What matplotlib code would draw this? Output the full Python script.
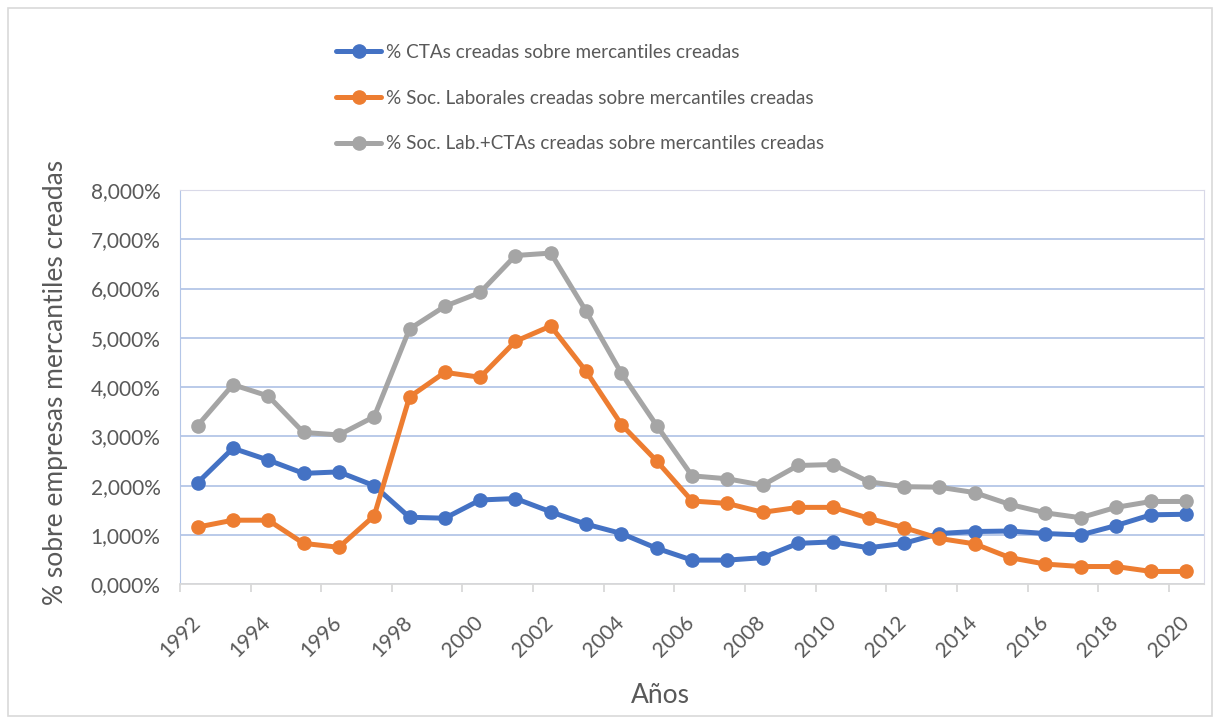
import numpy as np
import matplotlib
matplotlib.use('Agg')
import matplotlib.pyplot as plt
from matplotlib.ticker import FuncFormatter, MultipleLocator
from matplotlib.patches import Rectangle

# --------------------------------------------------------------------------------
# Data
a1iAnios = np.arange(1992, 2021)
a1dCTAs = [2.06, 2.76, 2.52, 2.25, 2.28, 2.00, 1.36, 1.34, 1.71, 1.74,
           1.47, 1.22, 1.03, 0.73, 0.49, 0.49, 0.54, 0.83, 0.86, 0.74,
           0.83, 1.03, 1.07, 1.08, 1.03, 1.00, 1.19, 1.41, 1.42]
a1dSocLab = [1.16, 1.30, 1.30, 0.83, 0.75, 1.39, 3.80, 4.30, 4.20, 4.93,
             5.24, 4.32, 3.24, 2.50, 1.69, 1.64, 1.46, 1.56, 1.56, 1.34,
             1.15, 0.93, 0.82, 0.54, 0.41, 0.36, 0.36, 0.26, 0.26]
a1dSocLabCTAs = [3.22, 4.05, 3.82, 3.08, 3.03, 3.40, 5.18, 5.64, 5.92, 6.67,
                 6.72, 5.54, 4.28, 3.22, 2.20, 2.14, 2.01, 2.41, 2.43, 2.08,
                 1.98, 1.97, 1.86, 1.62, 1.45, 1.35, 1.56, 1.68, 1.68]
a1sLabels = ['% CTAs creadas sobre mercantiles creadas',
             '% Soc. Laborales creadas sobre mercantiles creadas',
             '% Soc. Lab.+CTAs creadas sobre mercantiles creadas']
a1sColors = ['#4472C4', '#ED7D31', '#A5A5A5']
# --------------------------------------------------------------------------------

# --------------------------------------------------------------------------------
# Figure
plt.rcParams['font.family'] = ['Lato', 'DejaVu Sans']
oFig = plt.figure(figsize=(12.2, 7.24), dpi=100)
oAx = oFig.add_axes([0.1475, 0.193, 0.8395, 0.5446])

# Points sit in the middle of each year (date axis)
a1dX = a1iAnios + 0.5
for a1dVal, sLab, sCol in zip([a1dCTAs, a1dSocLab, a1dSocLabCTAs], a1sLabels, a1sColors):
    oAx.plot(a1dX, a1dVal, color=sCol, lw=3.6, marker='o', ms=9.5, label=sLab,
             solid_capstyle='round', zorder=3)
# --------------------------------------------------------------------------------

# --------------------------------------------------------------------------------
# Axes
oAx.set_xlim(1992, 2021)
oAx.set_ylim(0, 8)
oAx.yaxis.set_major_locator(MultipleLocator(1))
oAx.yaxis.set_major_formatter(FuncFormatter(lambda v, p: ('%.3f%%' % v).replace('.', ',')))
oAx.set_xticks(np.arange(1992, 2021, 2))
oAx.set_xticklabels([str(i) for i in range(1992, 2021, 2)], rotation=45, ha='center', va='top')
oAx.grid(axis='y', color='#B4C6E7', lw=1.3, zorder=0)
oAx.set_axisbelow(True)
for sSide in ['top', 'right']:
    oAx.spines[sSide].set_color('#D9D9E8')
oAx.spines['left'].set_color('#B4C6E7')
oAx.spines['bottom'].set_color('#D9D9D9')
oAx.spines['bottom'].set_linewidth(1.3)
oAx.tick_params(axis='y', length=0, labelsize=15, colors='#595959', pad=14)
oAx.tick_params(axis='x', length=6, width=1.3, color='#D9D9D9', labelsize=15,
                labelcolor='#595959', pad=14)
oAx.set_xlabel('Años', fontsize=19, color='#595959')
oAx.set_ylabel('% sobre empresas mercantiles creadas', fontsize=19, color='#595959')
oAx.xaxis.set_label_coords(0.469, -0.25)
oAx.yaxis.set_label_coords(-0.109, 0.513)
# --------------------------------------------------------------------------------

# --------------------------------------------------------------------------------
# Legend
oFig.legend(loc='upper left', bbox_to_anchor=(336 / 1220, 1 - 44 / 724), frameon=False,
            fontsize=13.6, handlelength=2.4, handletextpad=0.25, labelspacing=1.52,
            borderpad=0, borderaxespad=0, labelcolor='#595959')

# Chart border
oFig.patches.append(Rectangle((8 / 1220, 8 / 724), 1 - 16 / 1220, 1 - 16 / 724,
                              transform=oFig.transFigure, fill=False,
                              edgecolor='#D9D9D9', lw=1.2))
oFig.savefig('out.png', dpi=100)
# --------------------------------------------------------------------------------
